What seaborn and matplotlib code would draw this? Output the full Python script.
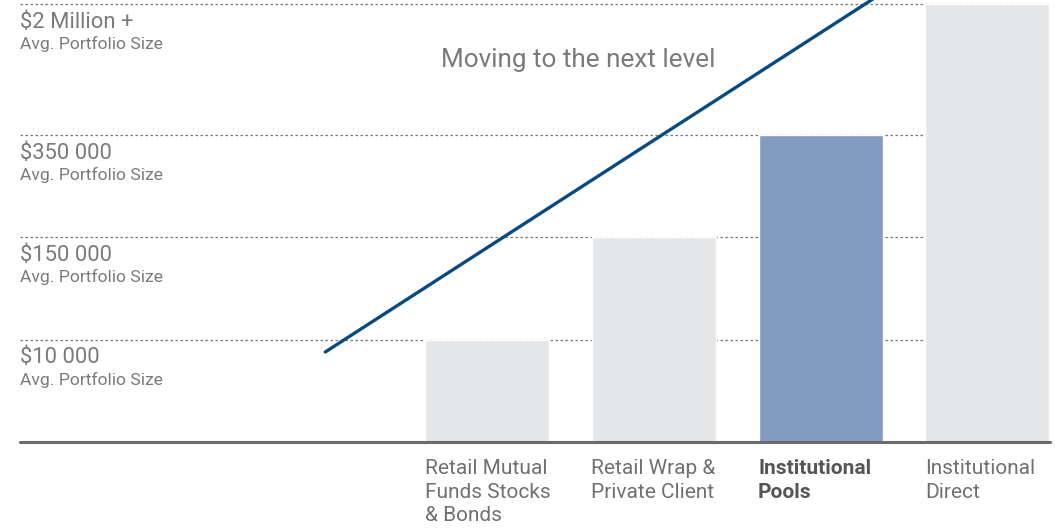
import matplotlib
matplotlib.use("Agg")
import matplotlib.pyplot as plt
import seaborn as sns
import pandas as pd

# chart data
categories = ["Retail Mutual\nFunds Stocks\n& Bonds", "Retail Wrap &\nPrivate Client",
              "Institutional\nPools", "Institutional\nDirect"]
levels = [1.0, 2.0, 3.0, 4.28]
level_labels = ["$10 000", "$150 000", "$350 000", "$2 Million +"]
sub_label = "Avg. Portfolio Size"
bar_colors = ["#e5e6e8", "#e5e6e8", "#829bc0", "#e5e6e8"]
trend_x = [-0.97, 2.39]
trend_y = [0.88, 4.41]
title = "Moving to the next level"

sns.set_style("white")
plt.rcParams["font.family"] = ["Roboto", "DejaVu Sans"]

fig = plt.figure(figsize=(10.55, 5.28), dpi=100)
ax = fig.add_axes([0, 0, 1, 1])

df = pd.DataFrame({"cat": categories, "level": levels})
sns.barplot(data=df, x="cat", y="level", hue="cat", palette=bar_colors,
            width=0.743, legend=False, ax=ax, zorder=3, saturation=1)

ax.set_xlim(-2.92, 3.405)
ax.set_ylim(-0.84, 4.32)
ax.axis("off")

x_left = -2.80
x_right = 3.375
# dotted gridlines at each level
for lv in levels:
    ax.plot([x_left, x_right], [lv, lv], color="#777777", lw=0.9,
            ls=(0, (2, 2)), zorder=1)
# baseline
ax.plot([x_left, x_right], [0, 0], color="#6b6b6b", lw=2.2, zorder=4)

# level labels on the left
for lv, lab in zip(levels, level_labels):
    ax.annotate(lab, (x_left, lv), xytext=(0, -18), textcoords="offset pixels",
                ha="left", va="center", fontsize=15.8, color="#7a7a7a")
    ax.annotate(sub_label, (x_left, lv), xytext=(0, -40), textcoords="offset pixels",
                ha="left", va="center", fontsize=12.6, color="#7a7a7a")

# trend line
sns.lineplot(x=trend_x, y=trend_y, color="#0b4a7e", lw=2.4, ax=ax, zorder=5)
ax.set_xlim(-2.92, 3.405)
ax.set_ylim(-0.84, 4.32)

ax.text(-0.275, 3.73, title, ha="left", va="center", fontsize=18.8, color="#7a7a7a")

# category labels under the bars
for i, cat in enumerate(categories):
    bold = "Pools" in cat
    ax.annotate(cat, (i - 0.375, 0), xytext=(0, -17), textcoords="offset pixels",
                ha="left", va="top", fontsize=15, linespacing=1.3,
                color="#555555" if bold else "#707070",
                fontweight="bold" if bold else "normal")

fig.savefig("out.png", dpi=100)
